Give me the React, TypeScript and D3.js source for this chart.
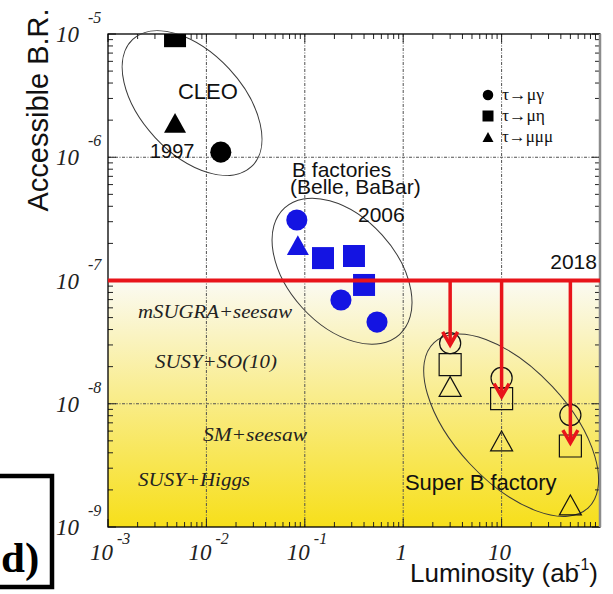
import React from "react";
import * as d3 from "d3";

const W = 613;
const H = 594;
const M = { left: 108, right: 600, top: 34, bottom: 527 };

const lumDomain = [1e-3, 1e2];
const brDomain = [1e-9, 1e-5];

// decay modes and their marker shapes
const modeLabels = ["τ→μγ", "τ→μη", "τ→μμμ"];
const modeLabelWidths = [42, 43, 51];
const modeShapes = ["circle", "square", "triangle"];

// CLEO (1997) upper limits
const cleoMode = [1, 2, 0];
const cleoLumi = [0.0048, 0.0048, 0.014];
const cleoBR = [9.6e-6, 1.9e-6, 1.1e-6];

// B factories (2006) upper limits
const bfMode = [0, 2, 1, 1, 1, 0, 0];
const bfLumi = [0.083, 0.085, 0.153, 0.316, 0.4, 0.233, 0.542];
const bfBR = [3.1e-7, 1.94e-7, 1.52e-7, 1.58e-7, 9.2e-8, 6.95e-8, 4.6e-8];

// Super B factory projections
const sbMode = [0, 1, 2, 0, 1, 2, 0, 1, 2];
const sbLumi = [3, 3, 3, 10, 10, 10, 50, 50, 50];
const sbBR = [3.1e-8, 2.08e-8, 1.38e-8, 1.62e-8, 1.1e-8, 4.99e-9, 8.1e-9, 4.54e-9, 1.51e-9];

// 2018 reach and the arrows down to the projected sensitivities
const reach2018 = 1e-7;
const arrowLumi = [3, 10, 50];
const arrowBR = [3.0e-8, 1.14e-8, 4.8e-9];

// tick decades
const xDecades = [-3, -2, -1, 0, 1, 2];
const yDecades = [-5, -6, -7, -8, -9];

const x = d3.scaleLog().domain(lumDomain).range([M.left, M.right]);
const y = d3.scaleLog().domain(brDomain).range([M.bottom, M.top]);

// group outlines: centre in data space, semi-axes (px), tilt (deg)
const outlines = [
  { lum: 0.00715, br: 2.75e-6, a: 87, b: 50.5, tilt: 47 },
  { lum: 0.239, br: 1.19e-7, a: 85.5, b: 54, tilt: 47.8 },
  { lum: 12.5, br: 6.7e-9, a: 113, b: 56.5, tilt: 47 },
];

const SANS = "'Liberation Sans', Arial, sans-serif";
const SERIF = "'Liberation Serif', 'Times New Roman', serif";
const RED = "#e8141a";
const BLUE = "#1414e2";

function markerPath(shape: string, s: number) {
  const h = s / 2;
  if (shape === "circle") {
    const r = s * 0.48;
    return `M${-r},0A${r},${r} 0 1,0 ${r},0A${r},${r} 0 1,0 ${-r},0Z`;
  }
  if (shape === "square") return `M${-h},${-h}H${h}V${h}H${-h}Z`;
  const th = s * 0.45;
  return `M0,${-th}L${h},${th}L${-h},${th}Z`;
}

function Marker({ cx, cy, shape, size, fill, stroke }: any) {
  return (
    <path
      transform={`translate(${cx},${cy})`}
      d={markerPath(shape, size)}
      fill={fill}
      stroke={stroke}
      strokeWidth={stroke === "none" ? 0 : 1.2}
    />
  );
}

function ticks(dec: number[]) {
  const out: { v: number; major: boolean }[] = [];
  for (let i = 0; i < dec.length; i++) {
    const base = Math.pow(10, dec[i]);
    out.push({ v: base, major: true });
    if (i < dec.length - 1) {
      for (let k = 2; k <= 9; k++) out.push({ v: base * k, major: false });
    }
  }
  return out;
}

export default function App() {
  const xt = ticks(xDecades.slice().sort((a, b) => a - b));
  const yt = ticks(yDecades.slice().sort((a, b) => a - b));
  const yRed = y(reach2018);

  return (
    <svg
      width={W}
      height={H}
      viewBox={`0 0 ${W} ${H}`}
      style={{ position: "absolute", left: 0, top: 0, background: "#fff" }}
    >
      <defs>
        <linearGradient id="reachFill" x1="0" y1="0" x2="0" y2="1">
          <stop offset="0" stopColor="#fbfaf3" />
          <stop offset="0.45" stopColor="#f9ed90" />
          <stop offset="1" stopColor="#f7df1a" />
        </linearGradient>
        <clipPath id="plotClip">
          <rect x={M.left} y={M.top} width={M.right - M.left} height={M.bottom - M.top} />
        </clipPath>
      </defs>

      {/* shaded region below the 2018 reach */}
      <rect x={M.left} y={yRed} width={M.right - M.left} height={M.bottom - yRed} fill="url(#reachFill)" />

      {/* decade grid */}
      <g stroke="#505050" strokeWidth={1} strokeDasharray="3 1.5 1 1.5">
        {xDecades.filter((d) => d > -3 && d < 2).map((d) => (
          <line key={"gx" + d} x1={x(Math.pow(10, d))} x2={x(Math.pow(10, d))} y1={M.top} y2={M.bottom} />
        ))}
        {yDecades.filter((d) => d < -5 && d > -9).map((d) => (
          <line key={"gy" + d} y1={y(Math.pow(10, d))} y2={y(Math.pow(10, d))} x1={M.left} x2={M.right} />
        ))}
      </g>

      {/* axis ticks on all four sides */}
      <g stroke="#222" strokeWidth={1}>
        {xt.map((t, i) => {
          const px = x(t.v);
          const L = t.major ? 8 : 5;
          return (
            <g key={"xt" + i}>
              <line x1={px} x2={px} y1={M.bottom} y2={M.bottom - L} />
              <line x1={px} x2={px} y1={M.top} y2={M.top + L} />
            </g>
          );
        })}
        {yt.map((t, i) => {
          const py = y(t.v);
          const L = t.major ? 8 : 5;
          return (
            <g key={"yt" + i}>
              <line y1={py} y2={py} x1={M.left} x2={M.left + L} />
              <line y1={py} y2={py} x1={M.right} x2={M.right - L} />
            </g>
          );
        })}
      </g>

      {/* frame */}
      <rect x={M.left} y={M.top} width={M.right - M.left} height={M.bottom - M.top} fill="none" stroke="#000" strokeWidth={1.3} />
      <line x1={M.right} x2={M.right} y1={M.top} y2={M.bottom} stroke="#8c8c8c" strokeWidth={2.5} />

      {/* group outlines */}
      {outlines.map((o, i) => (
        <ellipse
          key={"el" + i}
          cx={0}
          cy={0}
          rx={o.a}
          ry={o.b}
          transform={`translate(${x(o.lum)},${y(o.br)}) rotate(${o.tilt})`}
          fill="none"
          stroke="#3a3a3a"
          strokeWidth={1}
        />
      ))}

      <g clipPath="url(#plotClip)">
        {/* CLEO */}
        {cleoLumi.map((l, i) => (
          <Marker key={"c" + i} cx={x(l)} cy={y(cleoBR[i])} shape={modeShapes[cleoMode[i]]} size={22} fill="#000" stroke="none" />
        ))}
        {/* B factories */}
        {bfLumi.map((l, i) => (
          <Marker key={"b" + i} cx={x(l)} cy={y(bfBR[i])} shape={modeShapes[bfMode[i]]} size={22} fill={BLUE} stroke="none" />
        ))}
        {/* Super B */}
        {sbLumi.map((l, i) => (
          <Marker key={"s" + i} cx={x(l)} cy={y(sbBR[i])} shape={modeShapes[sbMode[i]]} size={22} fill="none" stroke="#111" />
        ))}

        {/* 2018 line and arrows */}
        <line x1={M.left} x2={M.right} y1={yRed} y2={yRed} stroke={RED} strokeWidth={4} />
        {arrowLumi.map((l, i) => {
          const px = x(l);
          const tip = y(arrowBR[i]);
          return (
            <g key={"ar" + i} stroke={RED} strokeWidth={3.5} fill="none">
              <line x1={px} x2={px} y1={yRed} y2={tip - 1} />
              <path d={`M${px - 7.5},${tip - 13}L${px},${tip}L${px + 7.5},${tip - 13}`} strokeLinejoin="miter" />
            </g>
          );
        })}
      </g>

      {/* annotations */}
      <g fontFamily={SANS} fill="#111">
        <text x={x(0.00514)} y={y(2.97e-6)} fontSize={22}>CLEO</text>
        <text x={x(0.00267)} y={y(9.86e-7)} fontSize={20}>1997</text>
        <text x={x(0.0741)} y={y(6.92e-7)} fontSize={21}>B factories</text>
        <text x={x(0.0707)} y={y(5.04e-7)} fontSize={21}>(Belle, BaBar)</text>
        <text x={x(0.347)} y={y(2.99e-7)} fontSize={21}>2006</text>
        <text x={x(93.2)} y={y(1.24e-7)} fontSize={21} textAnchor="end">2018</text>
        <text x={x(1.04)} y={y(2.0e-9)} fontSize={22}>Super B factory</text>
      </g>
      <g fontFamily={SERIF} fontStyle="italic" fill="#222" fontSize={18}>
        <text x={x(0.00202)} y={y(4.96e-8)} textLength={154} lengthAdjust="spacingAndGlyphs">mSUGRA+seesaw</text>
        <text x={x(0.003)} y={y(1.95e-8)} textLength={122} lengthAdjust="spacingAndGlyphs">SUSY+SO(10)</text>
        <text x={x(0.00923)} y={y(4.99e-9)} textLength={104} lengthAdjust="spacingAndGlyphs">SM+seesaw</text>
        <text x={x(0.00202)} y={y(2.15e-9)} textLength={112} lengthAdjust="spacingAndGlyphs">SUSY+Higgs</text>
      </g>

      {/* legend */}
      <g>
        {modeLabels.map((lab, i) => (
          <g key={"lg" + i} transform={`translate(488,${95 + i * 21})`}>
            <path d={markerPath(modeShapes[i], 11)} fill="#000" />
            <text
              x={14}
              y={5}
              fontFamily={SERIF}
              fontSize={16}
              fill="#111"
              textLength={modeLabelWidths[i]}
              lengthAdjust="spacingAndGlyphs"
            >
              {lab}
            </text>
          </g>
        ))}
      </g>

      {/* tick labels */}
      <g fontFamily={SERIF} fontStyle="italic" fill="#222">
        {yDecades.map((d) => {
          const py = y(Math.pow(10, d));
          return (
            <g key={"yl" + d}>
              <text x={79} y={py + 8} fontSize={23} textAnchor="end">10</text>
              <text x={88} y={py - 11} fontSize={16}>{`-${-d}`}</text>
            </g>
          );
        })}
        {xDecades.filter((d) => d < 2).map((d) => {
          const px = x(Math.pow(10, d));
          if (d < 0)
            return (
              <g key={"xl" + d}>
                <text x={px + 5} y={560} fontSize={23} textAnchor="end">10</text>
                <text x={px + 9} y={544} fontSize={16}>{`-${-d}`}</text>
              </g>
            );
          return (
            <text key={"xl" + d} x={px - 2} y={560} fontSize={23} textAnchor="middle">
              {d === 0 ? "1" : "10"}
            </text>
          );
        })}
      </g>

      {/* axis titles */}
      <text transform="translate(48,110) rotate(-90)" textAnchor="middle" fontFamily={SANS} fontSize={29} fill="#111">
        Accessible B.R.
      </text>
      <text x={410} y={582} fontFamily={SANS} fontSize={26} fill="#111">
        Luminosity (ab
        <tspan dx={-4} dy={-12} fontSize={16}>-1</tspan>
        <tspan dy={12} fontSize={26}>)</tspan>
      </text>

      {/* panel tag */}
      <rect x={-6} y={476} width={58} height={111} fill="#fff" stroke="#000" strokeWidth={4.5} />
      <text x={1} y={572} fontFamily={SERIF} fontWeight="bold" fontSize={43} fill="#000">d)</text>
    </svg>
  );
}
